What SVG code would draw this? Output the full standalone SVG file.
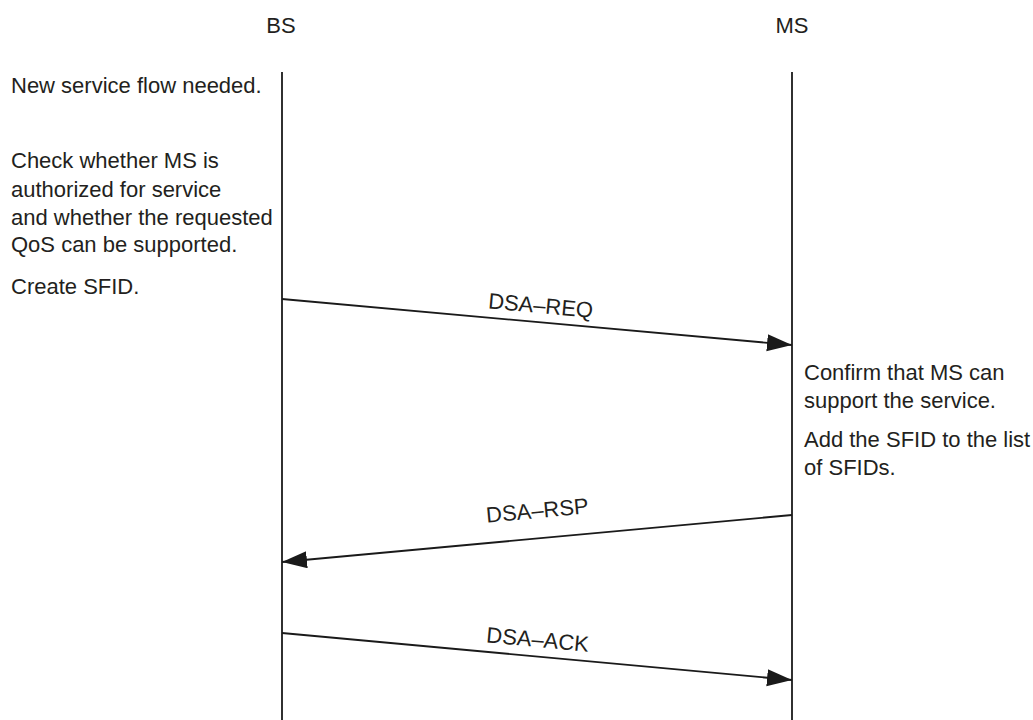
<svg xmlns="http://www.w3.org/2000/svg" width="1033" height="720" viewBox="0 0 1033 720">
  <style>
    text { font-family: "Liberation Sans", Arial, sans-serif; font-size: 22px; fill: #231f20; }
    .life { stroke: #1a1a1a; stroke-width: 1.8; fill: none; }
    .msg { stroke: #1a1a1a; stroke-width: 1.8; fill: none; marker-end: url(#head); }
    .mid { text-anchor: middle; }
  </style>
  <defs>
    <marker id="head" markerUnits="userSpaceOnUse" markerWidth="26" markerHeight="18" refX="25" refY="8.5" orient="auto">
      <path d="M0,0 L25,8.5 L0,17 Z" fill="#1a1a1a"/>
    </marker>
  </defs>
  <rect width="1033" height="720" fill="#ffffff"/>

  <!-- Base station -->
  <g id="bs">
    <text class="mid" x="281" y="33">BS</text>
    <line class="life" x1="282" y1="72" x2="282" y2="720"/>
  </g>

  <!-- Mobile station -->
  <g id="ms">
    <text class="mid" x="792" y="33">MS</text>
    <line class="life" x1="792" y1="72" x2="792" y2="720"/>
  </g>

  <!-- BS-side notes -->
  <g id="bs-notes">
    <text x="11" y="93">New service flow needed.</text>
    <text x="11" y="168">Check whether MS is</text>
    <text x="11" y="196.5">authorized for service</text>
    <text x="11" y="225">and whether the requested</text>
    <text x="11" y="252">QoS can be supported.</text>
    <text x="11" y="294">Create SFID.</text>
  </g>

  <!-- MS-side notes -->
  <g id="ms-notes">
    <text x="804" y="380">Confirm that MS can</text>
    <text x="804" y="408">support the service.</text>
    <text x="804" y="447">Add the SFID to the list</text>
    <text x="804" y="475">of SFIDs.</text>
  </g>

  <!-- Messages -->
  <g id="connectors">
    <line class="msg" x1="282" y1="299" x2="792" y2="345"/>
    <line class="msg" x1="792" y1="515" x2="282" y2="562"/>
    <line class="msg" x1="282" y1="633" x2="792" y2="680"/>
  </g>

  <g id="labels">
    <text class="mid" transform="translate(540,313) rotate(5.2)">DSA–REQ</text>
    <text class="mid" transform="translate(538,518) rotate(-5.3)">DSA–RSP</text>
    <text class="mid" transform="translate(537,647) rotate(5.3)">DSA–ACK</text>
  </g>
</svg>
